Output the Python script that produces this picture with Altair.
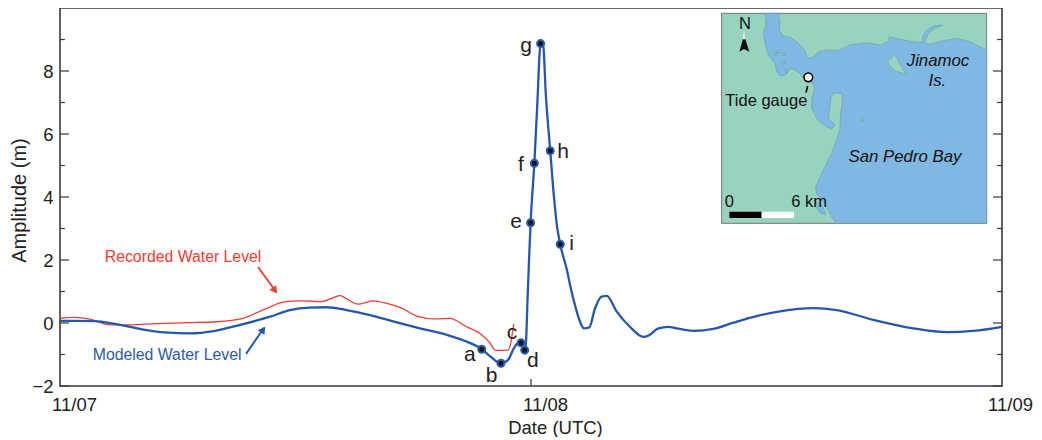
import altair as alt
import pandas as pd

# Series values: hours since 11/07 00:00 UTC, amplitude in metres
modeled_h = [0,0.76,1.78,2.80,4.08,5.35,6.62,7.90,9.17,10.70,11.72,12.74,13.59,14.61,15.80,17.16,18.34,19.71,20.72,21.49,21.91,22.47,22.83,23.13,23.34,23.49,23.68,23.75,23.82,23.90,23.98,24.17,24.31,24.49,24.61,24.76,24.98,25.17,25.32,25.49,25.83,25.99,26.24,26.50,26.70,26.97,27.26,27.60,27.86,28.37,29.04,29.72,29.98,30.49,31.0,31.42,32.27,33.29,34.31,35.50,36.69,38.39,39.58,41.44,43.48,45.18,46.54,48]
modeled_a = [0.07,0.07,0.06,-0.03,-0.19,-0.30,-0.33,-0.25,-0.06,0.20,0.41,0.49,0.50,0.41,0.25,0.02,-0.17,-0.38,-0.59,-0.83,-1.05,-1.28,-1.17,-0.80,-0.64,-0.63,-0.86,-0.55,0.7,2.0,3.18,5.07,6.8,8.87,8.87,7.2,5.47,4.0,3.1,2.5,1.68,1.21,0.57,0.04,-0.17,-0.14,0.46,0.84,0.86,0.36,-0.12,-0.44,-0.40,-0.17,-0.12,-0.17,-0.25,-0.19,0.01,0.22,0.37,0.47,0.41,0.10,-0.17,-0.29,-0.25,-0.12]
recorded_h = [0,0.76,1.53,2.55,3.57,4.94,6.47,8.0,9.32,10.55,11.36,12.23,13.33,13.91,14.27,14.52,15.18,15.95,16.65,17.41,18.18,19.11,19.87,20.72,21.40,21.91,22.17,22.52,22.83,22.98,23.08,23.13]
recorded_a = [0.15,0.18,0.12,-0.06,-0.06,-0.02,0.01,0.04,0.15,0.47,0.66,0.70,0.68,0.80,0.87,0.80,0.60,0.70,0.62,0.47,0.22,0.13,0.15,-0.12,-0.33,-0.63,-0.86,-0.87,-0.86,-0.6,-0.2,-0.03]

point_names = ["a","b","c","d","e","f","g","h","i"]
point_h = [21.49,22.47,23.49,23.68,23.98,24.17,24.49,24.98,25.49]
point_a = [-0.835,-1.28,-0.63,-0.86,3.18,5.07,8.87,5.47,2.5]
letter_h = [20.89,21.99,23.03,24.10,23.24,23.49,23.75,25.63,26.07]
letter_a = [-1.03,-1.68,-0.31,-1.2,3.20,5.03,8.79,5.42,2.51]

x_ticks = [0,24,48]
y_major = [-2,0,2,4,6,8]
y_minor = [-1,1,3,5,7,9]

# Inset map outlines, in map grid units
water_x = [195,235,240,238,248,270,290,310,325,342,355,380,415,450,500,540,565,568,600,640,668,668,680,700,728,705,685,675,685,730,770,810,840,860,860,408,395,372,350,347,370,395,410,420,422,428,425,400,393,390,385,405,395,375,350,335,335,345,335,310,300,285,270,258,240,230,225,205,195,190,200]
water_y = [40,40,65,90,108,112,125,145,175,170,155,150,152,135,128,135,125,110,118,125,128,110,90,78,75,85,100,125,133,122,115,125,140,152,670,670,650,610,580,560,510,460,420,385,340,300,280,280,290,320,355,375,388,378,355,325,295,265,245,235,220,210,205,225,228,215,190,165,130,100,70]
frame_x = [65,860,860,65]
frame_y = [40,40,670,670]
island_x = [583,563,570,590,617,605,590]
island_y = [163,185,200,215,222,200,175]
inlet_x = [347,365,378,362,350]
inlet_y = [606,612,645,640,625]
islet_x = [200,233,250,228,250,258,489]
islet_y = [68,155,163,163,188,213,359]
bar_black_x = [88,185,185,88]
bar_white_x = [185,282,282,185]
bar_y = [635,635,654,654]
north_x = [132,118,132,148]
north_y = [105,155,147,155]
north_tip_x = [132,128,136]
north_tip_y = [93,118,118]
gauge_x = [325]
gauge_y = [232]
gauge_arrow_x = [318,323]
gauge_arrow_y = [278,258]
map_labels = ["N","Tide gauge","0","6 km"]
map_label_x = [135,199,88,327]
map_label_y = [73,303,606,606]
map_ital = ["Jinamoc","Is.","San Pedro Bay"]
map_ital_x = [714,712,615]
map_ital_y = [183,243,472]

# Annotations, hours and metres
rec_label = ("Recorded Water Level", 6.27, 2.10)
mod_label = ("Modeled Water Level", 5.46, -1.02)
rec_arrow_h = [10.09,11.0]
rec_arrow_a = [1.78,1.0]
mod_arrow_h = [9.48,10.4]
mod_arrow_a = [-0.98,-0.15]
rec_head = (10.95,1.03,144)
mod_head = (10.35,-0.21,35)

COL_BLUE = "#2557ad"
COL_RED = "#ee3d32"
COL_GREEN = "#97d3bf"
COL_WATER = "#7fb8e3"
COL_AXIS = "#3a3a3a"
FONT = "Liberation Sans"

X = alt.X("h:Q", scale=alt.Scale(domain=[0,48], nice=False, zero=False),
          axis=alt.Axis(title="Date (UTC)", values=x_ticks, ticks=False, domain=False, grid=False,
                        labelExpr="datum.value==0?'11/07':datum.value==24?'11/08':'11/09'",
                        labelFontSize=18.5, labelFont=FONT, labelColor="#222", labelPadding=9,
                        labelOffset={"condition": {"test": "datum.value==48", "value": 8}, "value": 14},
                        labelFlush=False, labelOverlap=False,
                        titleFont=FONT, titleFontSize=18.5, titleFontWeight="normal", titleColor="#222",
                        titleX=495, titleY=41, titleBaseline="middle", titleAnchor="middle", titleAlign="center"))
Y = alt.Y("a:Q", scale=alt.Scale(domain=[-2,10], nice=False, zero=False),
          axis=alt.Axis(title="Amplitude (m)", values=y_major, ticks=False, domain=False, grid=False,
                        labelFontSize=18.5, labelFont=FONT, labelColor="#222", labelPadding=7,
                        labelExpr="replace(datum.label,'-','−')",
                        titleFont=FONT, titleFontSize=20, titleFontWeight="normal", titleColor="#222",
                        titleX=-41, titleY=192, titleBaseline="middle", titleAnchor="middle", titleAlign="center"))


def hx(u):
    return (700 + u / 3 - 60) / 19.625


def ay(v):
    return (323 - v / 3) / 31.5


def mapdf(xs, ys):
    return pd.DataFrame({"h": [hx(u) for u in xs], "a": [ay(v) for v in ys], "i": range(len(xs))})


def poly(xs, ys, fill, stroke=None, sw=0.7):
    kw = {"stroke": stroke, "strokeWidth": sw} if stroke else {"strokeWidth": 0}
    return alt.Chart(mapdf(xs, ys)).mark_line(interpolate="linear-closed", fill=fill, **kw).encode(
        x=X, y=Y, order="i:Q")


def text(df, color, size, style="normal", align="center"):
    return alt.Chart(df).mark_text(font=FONT, fontSize=size, fontStyle=style, color=color,
                                   align=align, baseline="middle").encode(x=X, y=Y, text="t:N")


def ticks(vals, side, length):
    rows = [{"h": side, "h2": side + length, "a": v} for v in vals]
    return alt.Chart(pd.DataFrame(rows)).mark_rule(color=COL_AXIS, strokeWidth=1.2).encode(
        x=X, x2=alt.X2("h2:Q"), y=Y)


modeled = pd.DataFrame({"h": modeled_h, "a": modeled_a, "i": range(len(modeled_h))})
recorded = pd.DataFrame({"h": recorded_h, "a": recorded_a, "i": range(len(recorded_h))})
points = pd.DataFrame({"h": point_h, "a": point_a})
letters = pd.DataFrame({"h": letter_h, "a": letter_a, "t": point_names})

layers = [
    ticks(y_major, 0, 0.46), ticks(y_minor, 0, 0.25),
    ticks(y_major, 48, -0.46), ticks(y_minor, 48, -0.25),
    alt.Chart(pd.DataFrame({"h": [24], "a": [-2], "a2": [-1.78]})).mark_rule(color=COL_AXIS, strokeWidth=1.2).encode(
        x=X, y=Y, y2=alt.Y2("a2:Q")),
    alt.Chart(recorded).mark_line(color=COL_RED, strokeWidth=1.3, interpolate="monotone").encode(x=X, y=Y, order="i:Q"),
    alt.Chart(modeled).mark_line(color=COL_BLUE, strokeWidth=2.3, interpolate="monotone").encode(x=X, y=Y, order="i:Q"),
    alt.Chart(points).mark_point(filled=True, fill="#14141e", stroke="#2a5db0", strokeWidth=2, size=50, opacity=1).encode(x=X, y=Y),
    text(letters, "#222", 21),
    text(pd.DataFrame({"h": [rec_label[1]], "a": [rec_label[2]], "t": [rec_label[0]]}), COL_RED, 15.8),
    text(pd.DataFrame({"h": [mod_label[1]], "a": [mod_label[2]], "t": [mod_label[0]]}), "#2e5aa8", 15.8),
    alt.Chart(pd.DataFrame({"h": rec_arrow_h, "a": rec_arrow_a})).mark_line(color=COL_RED, strokeWidth=1.8).encode(x=X, y=Y),
    alt.Chart(pd.DataFrame({"h": mod_arrow_h, "a": mod_arrow_a})).mark_line(color=COL_BLUE, strokeWidth=2).encode(x=X, y=Y),
    alt.Chart(pd.DataFrame({"h": [rec_head[0]], "a": [rec_head[1]]})).mark_point(shape="triangle-up", filled=True, color=COL_RED, size=70, angle=rec_head[2], opacity=1).encode(x=X, y=Y),
    alt.Chart(pd.DataFrame({"h": [mod_head[0]], "a": [mod_head[1]]})).mark_point(shape="triangle-up", filled=True, color=COL_BLUE, size=70, angle=mod_head[2], opacity=1).encode(x=X, y=Y),
    # inset map
    poly(frame_x, frame_y, COL_GREEN, "#777777", 1),
    poly(water_x, water_y, COL_WATER, "#6f9aa6", 0.6),
    poly(inlet_x, inlet_y, COL_WATER, "#6f9aa6", 0.5),
    poly(island_x, island_y, COL_GREEN, "#6f9aa6", 0.6),
    alt.Chart(mapdf(islet_x, islet_y)).mark_point(filled=True, fill=COL_GREEN, stroke="#6f8f9a", strokeWidth=0.7, size=7, opacity=1).encode(x=X, y=Y),
    poly(bar_black_x, bar_y, "#000000"),
    poly(bar_white_x, bar_y, "#ffffff"),
    poly(north_x, north_y, "#111111"),
    poly(north_tip_x, north_tip_y, "#ffffff"),
    alt.Chart(mapdf(gauge_arrow_x, gauge_arrow_y)).mark_line(color="#000000", strokeWidth=1.6).encode(x=X, y=Y, order="i:Q"),
    alt.Chart(mapdf(gauge_x, gauge_y)).mark_point(filled=True, fill="#ffffff", stroke="#000000", strokeWidth=1.6, size=75, opacity=1).encode(x=X, y=Y),
    text(mapdf(map_label_x, map_label_y).assign(t=map_labels), "#111", 16.5),
    text(mapdf(map_ital_x, map_ital_y).assign(t=map_ital), "#111", 16.8, style="italic"),
]

chart = alt.layer(*layers).properties(
    width=942, height=378,
    padding={"left": 1, "top": 0, "right": 0, "bottom": 0}).configure_view(
    stroke=COL_AXIS, strokeWidth=1.6)

chart.save("out.html", embed_options={"renderer": "svg", "actions": False})
